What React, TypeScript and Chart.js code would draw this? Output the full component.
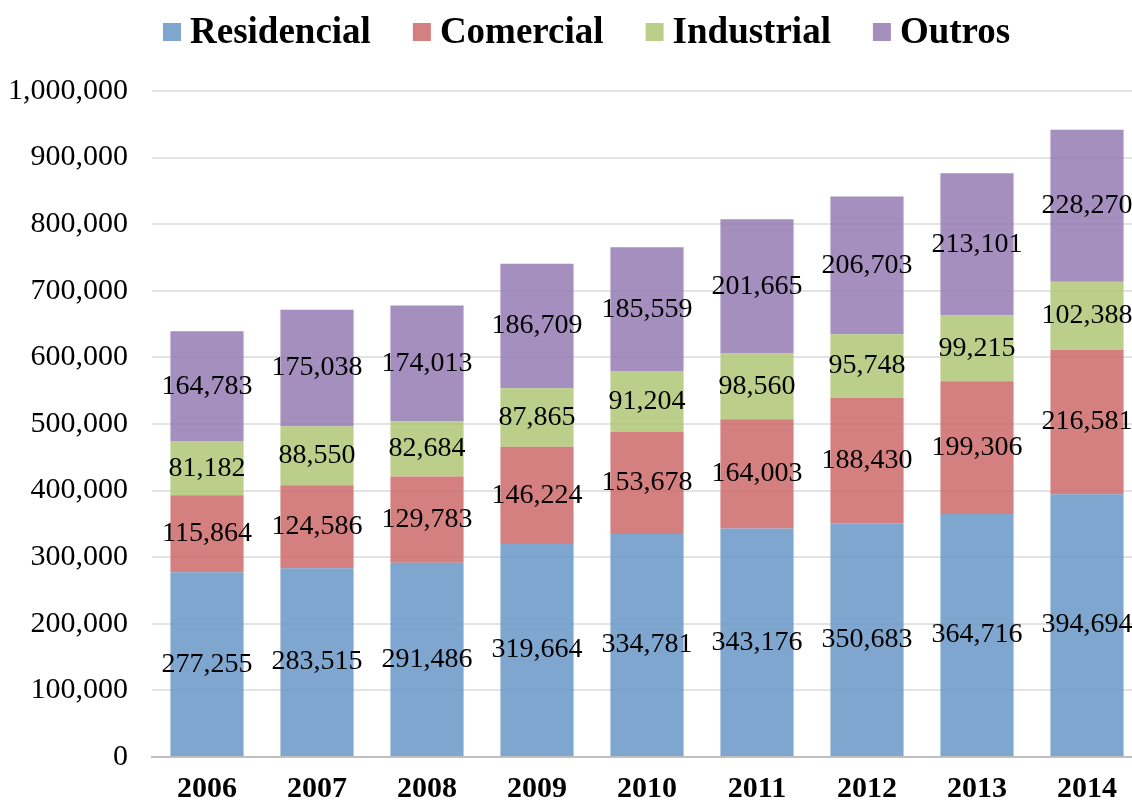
import React, { useEffect, useRef } from "react";
import { Chart, registerables } from "chart.js";

Chart.register(...registerables);

const years = ["2006", "2007", "2008", "2009", "2010", "2011", "2012", "2013", "2014"];
const residencial = [277255, 283515, 291486, 319664, 334781, 343176, 350683, 364716, 394694];
const comercial = [115864, 124586, 129783, 146224, 153678, 164003, 188430, 199306, 216581];
const industrial = [81182, 88550, 82684, 87865, 91204, 98560, 95748, 99215, 102388];
const outros = [164783, 175038, 174013, 186709, 185559, 201665, 206703, 213101, 228270];

const seriesNames = ["Residencial", "Comercial", "Industrial", "Outros"];
const seriesColors = [
  "rgba(104,150,197,0.85)",
  "rgba(206,106,106,0.85)",
  "rgba(175,199,119,0.85)",
  "rgba(148,123,180,0.85)",
];

const FONT = "'Liberation Serif', 'Times New Roman', serif";

const valueLabels = {
  id: "valueLabels",
  afterDatasetsDraw(chart: any) {
    const ctx = chart.ctx;
    ctx.save();
    ctx.font = `28px ${FONT}`;
    ctx.fillStyle = "#000";
    ctx.textAlign = "center";
    ctx.textBaseline = "middle";
    chart.data.datasets.forEach((ds: any, di: number) => {
      const meta = chart.getDatasetMeta(di);
      meta.data.forEach((el: any, i: number) => {
        const v = ds.data[i];
        const y = (el.y + el.base) / 2;
        ctx.fillText(Number(v).toLocaleString("en-US"), el.x, y);
      });
    });
    ctx.restore();
  },
};

// Custom legend: square box, small gap, bold label, evenly spaced items
const customLegend = {
  id: "customLegend",
  afterDraw(chart: any) {
    const ctx = chart.ctx;
    ctx.save();
    ctx.font = `bold 37px ${FONT}`;
    ctx.textBaseline = "middle";
    ctx.textAlign = "left";
    const box = 18;
    const gap = 9;
    const spacing = 42;
    const cy = 32;
    let x = 163;
    chart.data.datasets.forEach((ds: any) => {
      ctx.fillStyle = ds.backgroundColor;
      ctx.fillRect(x, cy - box / 2, box, box);
      x += box + gap;
      ctx.fillStyle = "#000";
      ctx.fillText(ds.label, x, cy + 1);
      x += ctx.measureText(ds.label).width + spacing;
    });
    ctx.restore();
  },
};

export default function App() {
  const ref = useRef<HTMLCanvasElement>(null);
  useEffect(() => {
    if (!ref.current) return;
    const data = [residencial, comercial, industrial, outros];
    const chart = new Chart(ref.current, {
      type: "bar",
      data: {
        labels: years,
        datasets: seriesNames.map((n, i) => ({
          label: n,
          data: data[i],
          backgroundColor: seriesColors[i],
          borderWidth: 0,
          categoryPercentage: 1,
          barPercentage: 0.665,
        })),
      },
      options: {
        animation: false,
        responsive: false,
        devicePixelRatio: 1,
        layout: { padding: { left: 10, right: 0, top: 91, bottom: 0 } },
        plugins: {
          legend: { display: false },
          tooltip: { enabled: false },
        },
        scales: {
          x: {
            stacked: true,
            grid: { display: false, drawTicks: false },
            border: { color: "#bfbfbf", width: 2 },
            ticks: {
              font: { family: FONT, size: 30, weight: "bold" },
              color: "#000",
              padding: 14,
            },
            afterFit: (scale: any) => {
              scale.height = 46;
            },
          },
          y: {
            stacked: true,
            min: 0,
            max: 1000000,
            grid: { color: "#e3e3e3", lineWidth: 2, drawTicks: false },
            border: { display: false },
            ticks: {
              stepSize: 100000,
              font: { family: FONT, size: 30 },
              color: "#000",
              padding: 24,
              callback: (v: any) => Number(v).toLocaleString("en-US"),
            },
            afterFit: (scale: any) => {
              scale.width = 142;
            },
          },
        },
      },
      plugins: [valueLabels, customLegend],
    });
    return () => chart.destroy();
  }, []);
  return (
    <div style={{ position: "fixed", left: 0, top: 0, width: 1132, height: 803, overflow: "hidden", background: "#fff" }}>
      <canvas ref={ref} width={1142} height={803} style={{ width: 1142, height: 803, display: "block" }} />
    </div>
  );
}
